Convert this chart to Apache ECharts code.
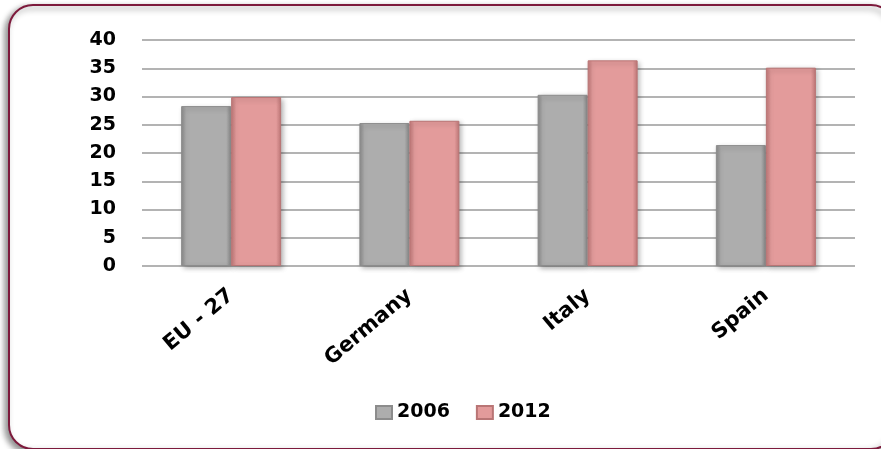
<!DOCTYPE html>
<html><head><meta charset="utf-8">
<script src="https://cdn.jsdelivr.net/npm/echarts@6/dist/echarts.min.js"></script>
<style>html,body{margin:0;padding:0;background:#fff}#c{width:881px;height:449px}</style>
</head><body><div id="c"></div>
<script>
var categories = ['EU - 27', 'Germany', 'Italy', 'Spain'];
var seriesNames = ['2006', '2012'];
var values2006 = [28.3, 25.3, 30.3, 21.4];
var values2012 = [29.9, 25.7, 36.4, 35.1];
var yTicks = [0, 5, 10, 15, 20, 25, 30, 35, 40];

function grad(mid, edge) {
  return new echarts.graphic.LinearGradient(0, 0, 1, 0, [
    {offset: 0, color: edge}, {offset: 0.1, color: mid},
    {offset: 0.9, color: mid}, {offset: 1, color: edge}
  ]);
}
var chart = echarts.init(document.getElementById('c'), null, {renderer: 'canvas'});
var font = '"DejaVu Sans", sans-serif';
chart.setOption({
  animation: false,
  graphic: [{
    type: 'rect', left: 8, top: 4, z: -10,
    shape: {width: 886, height: 444, r: 24},
    style: {fill: '#fff', stroke: '#7d1a3c', lineWidth: 2,
      shadowBlur: 6, shadowOffsetX: -3, shadowOffsetY: 3, shadowColor: 'rgba(0,0,0,0.45)'}
  }],
  grid: {left: 142, right: 26, top: 40, bottom: 183},
  legend: {
    data: seriesNames, top: 398, left: 370, itemGap: 26, padding: 5,
    itemWidth: 16, itemHeight: 13, icon: 'rect',
    textStyle: {fontFamily: font, fontWeight: 'bold', fontSize: 19, color: '#000'}
  },
  xAxis: {
    type: 'category', data: categories,
    axisLine: {show: false}, axisTick: {show: false},
    axisLabel: {rotate: 40, interval: 0, margin: 27, fontFamily: font, fontWeight: 'bold', fontSize: 21, color: '#000'}
  },
  yAxis: {
    type: 'value', min: yTicks[0], max: yTicks[yTicks.length - 1], interval: 5,
    axisLine: {show: false}, axisTick: {show: false},
    axisLabel: {margin: 26, fontFamily: font, fontWeight: 'bold', fontSize: 19, color: '#000'},
    splitLine: {lineStyle: {color: '#9a9a9a', width: 1.5}}
  },
  series: [{
    name: seriesNames[0], type: 'bar', data: values2006,
    barWidth: 50, barGap: '0%',
    itemStyle: {color: grad('#adadad', '#8a8a8a'), borderColor: '#8c8c8c', borderWidth: 1,
      shadowBlur: 5, shadowOffsetX: 2, shadowOffsetY: 2, shadowColor: 'rgba(0,0,0,0.3)'}
  }, {
    name: seriesNames[1], type: 'bar', data: values2012,
    barWidth: 50, barGap: '0%',
    itemStyle: {color: grad('#e39b9b', '#c07878'), borderColor: '#b97575', borderWidth: 1,
      shadowBlur: 5, shadowOffsetX: 2, shadowOffsetY: 2, shadowColor: 'rgba(0,0,0,0.3)'}
  }]
});
</script></body></html>
